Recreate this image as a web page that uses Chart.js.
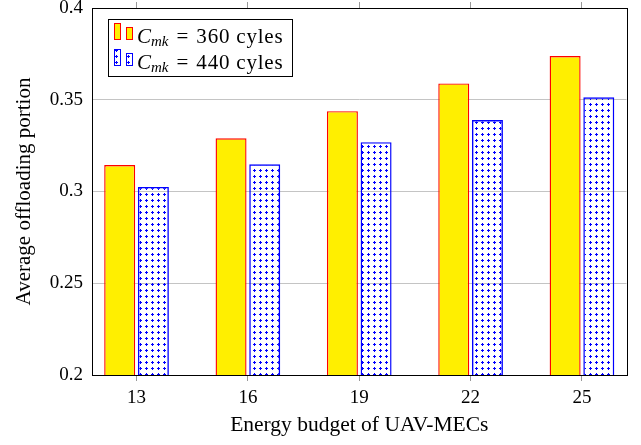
<!DOCTYPE html>
<html>
<head>
<meta charset="utf-8">
<script src="https://cdn.jsdelivr.net/npm/chart.js@4.4.1/dist/chart.umd.min.js"></script>
<style>
  body { margin: 0; background: #fff; }
  canvas { display: block; }
</style>
</head>
<body>
<canvas id="myChart" width="641" height="445"></canvas>
<script>
// data
var budgets = [13, 16, 19, 22, 25];
var cycles360 = [0.3144, 0.3290, 0.3438, 0.3589, 0.3738];
var cycles440 = [0.3025, 0.3148, 0.3269, 0.3389, 0.3513];
var seriesLabels = ['360 cyles', '440 cyles'];
var yTicks = [0.2, 0.25, 0.3, 0.35, 0.4];

var serif = "'Liberation Serif', serif";

// dotted fill like the pgfplots "dots" pattern
function makeDots(color) {
    var c = document.createElement('canvas');
    c.width = 6;
    c.height = 6;
    var g = c.getContext('2d');
    g.fillStyle = color;
    g.fillRect(2, 1, 1, 3);
    g.fillRect(1, 2, 3, 1);
    return document.getElementById('myChart').getContext('2d').createPattern(c, 'repeat');
}
var dots = makeDots('#0000ff');

function toPoints(vals) {
    return budgets.map(function (b, i) { return { x: b, y: vals[i] }; });
}

// frame + legend box
var framePlugin = {
    id: 'frame',
    afterDatasetsDraw: function (chart) {
        var a = chart.chartArea;
        var ctx = chart.ctx;
        ctx.save();
        ctx.strokeStyle = '#000';
        ctx.lineWidth = 1;
        ctx.strokeRect(Math.round(a.left) + 0.5, Math.round(a.top) + 0.5,
            Math.round(a.right) - Math.round(a.left), Math.round(a.bottom) - Math.round(a.top));
        ctx.restore();
    },
    afterDraw: function (chart) {
        var ctx = chart.ctx;
        ctx.save();
        ctx.fillStyle = '#fff';
        ctx.fillRect(108.5, 19.5, 184, 57);
        ctx.strokeStyle = '#000';
        ctx.lineWidth = 1;
        ctx.strokeRect(108.5, 19.5, 184, 57);

        var rows = [
            { y: 23, fill: '#FFEF00', border: '#FF0000', text: seriesLabels[0] },
            { y: 49, fill: dots, border: '#0000FF', text: seriesLabels[1] }
        ];
        rows.forEach(function (r) {
            // two small bars, second one shorter
            var bottom = r.y + 17;
            [[114, r.y], [126, r.y + 4]].forEach(function (p) {
                ctx.fillStyle = r.fill === dots ? '#fff' : r.fill;
                ctx.fillRect(p[0], p[1], 7, bottom - p[1]);
                if (r.fill === dots) {
                    ctx.fillStyle = dots;
                    ctx.fillRect(p[0], p[1], 7, bottom - p[1]);
                }
                ctx.strokeStyle = r.border;
                ctx.strokeRect(p[0] + 0.5, p[1] + 0.5, 6, bottom - p[1] - 1);
            });
            var base = r.y + 20;
            var x = 137;
            ctx.fillStyle = '#000';
            ctx.textBaseline = 'alphabetic';
            ctx.textAlign = 'left';
            ctx.font = 'italic 21px ' + serif;
            ctx.fillText('C', x, base);
            x += ctx.measureText('C').width;
            ctx.font = 'italic 15px ' + serif;
            ctx.fillText('mk', x, base + 3);
            x += ctx.measureText('mk').width + 8;
            ctx.font = '21px ' + serif;
            ctx.fillText('=', x, base);
            x += ctx.measureText('=').width + 8;
            ctx.letterSpacing = '0.8px';
            ctx.fillText(r.text, x, base);
            ctx.letterSpacing = '0px';
        });
        ctx.restore();
    }
};

var ctx = document.getElementById('myChart').getContext('2d');
var chart = new Chart(ctx, {
    type: 'bar',
    data: {
        datasets: [
            {
                label: seriesLabels[0],
                data: toPoints(cycles360),
                backgroundColor: '#FFEF00',
                borderColor: '#FF0000',
                borderWidth: 1.4,
                borderSkipped: false,
                categoryPercentage: 0.605,
                barPercentage: 0.92
            },
            {
                label: seriesLabels[1],
                data: toPoints(cycles440),
                backgroundColor: dots,
                borderColor: '#0000FF',
                borderWidth: 1.4,
                borderSkipped: false,
                categoryPercentage: 0.605,
                barPercentage: 0.92
            }
        ]
    },
    options: {
        responsive: false,
        animation: false,
        devicePixelRatio: 1,
        layout: { padding: { left: 0, right: 14.5, top: 0, bottom: 0 } },
        plugins: {
            legend: { display: false },
            tooltip: { enabled: false }
        },
        scales: {
            x: {
                type: 'linear',
                position: 'bottom',
                offset: false,
                min: 11.8,
                max: 26.2,
                afterBuildTicks: function (s) {
                    s.ticks = budgets.map(function (v) { return { value: v }; });
                },
                afterFit: function (s) {
                    s.height = 70;
                    s.paddingLeft = 0;
                    s.paddingRight = 0;
                },
                grid: {
                    offset: false,
                    drawOnChartArea: false,
                    drawTicks: true,
                    tickLength: 6,
                    color: '#999'
                },
                border: { display: true, color: '#000' },
                ticks: {
                    color: '#000',
                    padding: 6,
                    font: { family: serif, size: 19 }
                },
                title: {
                    display: true,
                    text: 'Energy budget of UAV-MECs',
                    color: '#000',
                    font: { family: serif, size: 21.5, lineHeight: 1 },
                    padding: { top: 0, bottom: 9 }
                }
            },
            xTop: {
                type: 'linear',
                position: 'top',
                offset: false,
                min: 11.8,
                max: 26.2,
                afterBuildTicks: function (s) {
                    s.ticks = budgets.map(function (v) { return { value: v }; });
                },
                afterFit: function (s) {
                    s.height = 8;
                    s.paddingLeft = 0;
                    s.paddingRight = 0;
                },
                grid: {
                    offset: false,
                    drawOnChartArea: false,
                    drawTicks: true,
                    tickLength: 6,
                    color: '#999'
                },
                border: { display: false },
                ticks: { display: false }
            },
            y: {
                min: 0.2,
                max: 0.4,
                afterBuildTicks: function (s) {
                    s.ticks = yTicks.map(function (v) { return { value: v }; });
                },
                afterFit: function (s) {
                    s.width = 92;
                    s.paddingTop = 0;
                    s.paddingBottom = 0;
                },
                grid: {
                    color: '#c4c4c4',
                    drawTicks: false
                },
                border: { display: true, color: '#000' },
                ticks: {
                    color: '#000',
                    padding: 9,
                    font: { family: serif, size: 19 },
                    callback: function (v) { return String(+v.toFixed(2)); }
                },
                title: {
                    display: true,
                    text: 'Average offloading portion',
                    color: '#000',
                    font: { family: serif, size: 21, lineHeight: 1 },
                    padding: { top: 14, bottom: 0 }
                }
            }
        }
    },
    plugins: [framePlugin]
});
</script>
</body>
</html>
